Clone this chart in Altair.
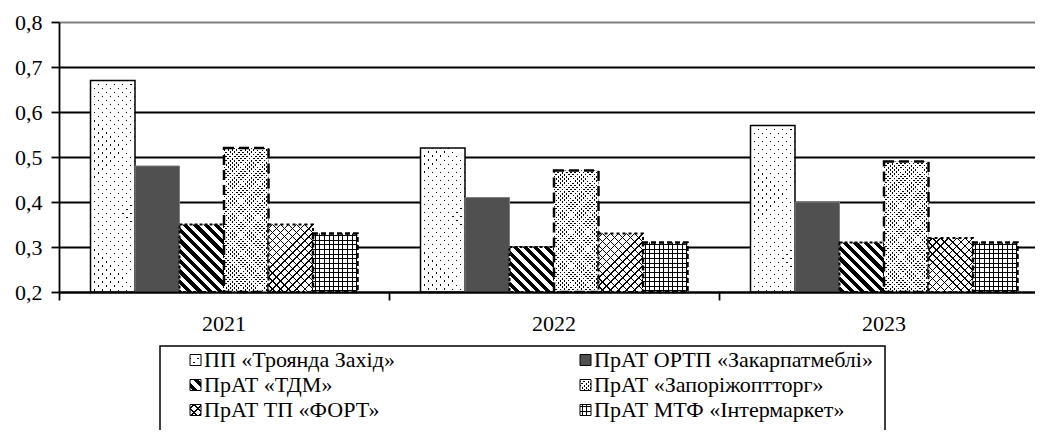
import math
import altair as alt
import pandas as pd

# ---------------- data ----------------
years = ["2021", "2022", "2023"]
series = [
    "ПП «Троянда Захід»",
    "ПрАТ ОРТП «Закарпатмеблі»",
    "ПрАТ «ТДМ»",
    "ПрАТ «Запоріжоптторг»",
    "ПрАТ ТП «ФОРТ»",
    "ПрАТ МТФ «Інтермаркет»",
]
troyanda = [0.67, 0.52, 0.57]
zakarpatmebli = [0.48, 0.41, 0.40]
tdm = [0.35, 0.30, 0.31]
zaporizh = [0.52, 0.47, 0.49]
fort = [0.35, 0.33, 0.32]
intermarket = [0.33, 0.31, 0.31]
y_ticks = [0.2, 0.3, 0.4, 0.5, 0.6, 0.7, 0.8]

values_by_series = [troyanda, zakarpatmebli, tdm, zaporizh, fort, intermarket]

rows = []
for s, vals in zip(series, values_by_series):
    for yr, v in zip(years, vals):
        rows.append({"year": yr, "series": s, "value": v})
df = pd.DataFrame(rows)
legend_df = pd.DataFrame({"name": series, "idx": list(range(len(series)))})

# ---------------- layout / style ----------------
PLOT_W, PLOT_H = 976, 270
GROUP = 330
Y_MIN, Y_MAX = 0.2, 0.8
OFF_PAD = 0.708
BAR_W = GROUP / (len(series) + 2 * OFF_PAD)
FONT = "Liberation Serif"
FS = 22
TRANSP = "rgba(255,255,255,0)"

# pattern recipes: ("solid", color) or ("lines", dir, pitch, width, line_color, bg_color)
PATTERNS = [
    [("solid", "black"), ("lines", "d1", 5.7, 1.1, TRANSP, "white"), ("lines", "d2", 5.7, 1.1, TRANSP, "white")],
    [("solid", "#505050")],
    [("solid", "white"), ("lines", "d1", 7.3, 3.6, "black", TRANSP)],
    [("solid", "black"), ("lines", "d1", 3.0, 1.3, TRANSP, "white"), ("lines", "d2", 3.0, 1.3, TRANSP, "white")],
    [("solid", "white"), ("lines", "d1", 5.7, 1.0, "black", TRANSP), ("lines", "d2", 5.7, 1.0, "black", TRANSP)],
    [("solid", "white"), ("lines", "v", 4.6, 1.0, "black", TRANSP), ("lines", "h", 4.6, 1.0, "black", TRANSP)],
]
OUTLINES = [
    dict(stroke="black", strokeWidth=1.5),
    dict(stroke="#7f7f7f", strokeWidth=1),
    dict(stroke="black", strokeWidth=2, strokeDash=[3, 2]),
    dict(stroke="black", strokeWidth=2.5, strokeDash=[10, 5]),
    dict(stroke="black", strokeWidth=2, strokeDash=[3, 3]),
    dict(stroke="black", strokeWidth=2.5, strokeDash=[5, 3]),
]


def line_gradient(w, h, direction, pitch, lw, line_color, bg_color):
    s2 = math.sqrt(0.5)
    nx, ny = {"v": (1, 0), "h": (0, 1), "d1": (s2, -s2), "d2": (s2, s2)}[direction]
    proj = [nx * px + ny * py for px, py in ((0, 0), (w, 0), (0, h), (w, h))]
    c0, c1 = min(proj), max(proj)
    L = c1 - c0
    gx, gy = nx * w / L, ny * h / L
    gg = gx * gx + gy * gy
    k0 = c0 / L
    x1, y1 = gx * k0 / gg, gy * k0 / gg
    x2, y2 = x1 + gx / gg, y1 + gy / gg
    stops = [(0.0, bg_color)]
    k = math.floor(c0 / pitch) - 1
    while k * pitch < c1 + pitch:
        center = k * pitch + pitch / 2
        ta = (center - lw / 2 - c0) / L
        tb = (center + lw / 2 - c0) / L
        k += 1
        if tb <= 0 or ta >= 1:
            continue
        ta, tb = max(0.0, ta), min(1.0, tb)
        stops += [(ta, bg_color), (ta, line_color), (tb, line_color), (tb, bg_color)]
    stops.append((1.0, bg_color))
    return alt.LinearGradient(
        gradient="linear",
        x1=round(x1, 6), y1=round(y1, 6), x2=round(x2, 6), y2=round(y2, 6),
        stops=[alt.GradientStop(offset=round(o, 6), color=c) for o, c in stops],
    )


def pattern_fills(i, w, h):
    out = []
    for rec in PATTERNS[i]:
        if rec[0] == "solid":
            out.append(rec[1])
        else:
            out.append(line_gradient(w, h, *rec[1:]))
    return out


# ---------------- encodings ----------------
x_enc = alt.X(
    "year:N", sort=years, title=None,
    scale=alt.Scale(domain=years, range=[0, GROUP * len(years)], paddingInner=0, paddingOuter=0),
    axis=alt.Axis(
        bandPosition=0, labelAngle=0, tickSize=8, tickWidth=1.8,
        tickColor="black", domainColor="black", domainWidth=1.8, labelFont=FONT,
        labelFontSize=FS, labelColor="black", labelPadding=13, grid=False, zindex=1,
    ),
)
xo_enc = alt.XOffset(
    "series:N", sort=series,
    scale=alt.Scale(domain=series, paddingInner=0, paddingOuter=OFF_PAD),
)
y_enc = alt.Y(
    "value:Q", title=None,
    scale=alt.Scale(domain=[Y_MIN, Y_MAX], nice=False, zero=False),
    axis=alt.Axis(
        values=y_ticks, labelExpr="replace(format(datum.value, '.1f'), '.', ',')",
        tickSize=8, tickWidth=1.8, tickColor="black", domainColor="black", domainWidth=1.8,
        grid=True, gridColor=alt.condition("datum.value > 0.79", alt.value("#808080"), alt.value("black")),
        gridWidth=1.8, labelFont=FONT, labelFontSize=FS, labelColor="black", labelPadding=9,
    ),
)

bar_layers = []
for i, s in enumerate(series):
    for j, yr in enumerate(years):
        v = values_by_series[i][j]
        h = (v - Y_MIN) / (Y_MAX - Y_MIN) * PLOT_H
        fills = pattern_fills(i, BAR_W, h)
        for k, f in enumerate(fills):
            props = dict(fill=f, opacity=1)
            if k == len(fills) - 1:
                props.update(OUTLINES[i])
            bar_layers.append(
                alt.Chart(df)
                .transform_filter((alt.datum.series == s) & (alt.datum.year == yr))
                .mark_bar(**props)
                .encode(x=x_enc, xOffset=xo_enc, y=y_enc, y2=alt.datum(Y_MIN))
            )
bars = alt.layer(*bar_layers)

# ---------------- legend ----------------
LEG_X0, LEG_COL, LEG_Y0, LEG_ROW, SYM, TXT_GAP = 131, 390, 338, 25, 11, 14
leg_base = (
    alt.Chart(legend_df)
    .transform_calculate(col="datum.idx % 2", row="floor(datum.idx / 2)")
    .transform_calculate(sx=f"{LEG_X0} + datum.col * {LEG_COL}", cy=f"{LEG_Y0} + datum.row * {LEG_ROW}")
    .transform_calculate(
        sx2=f"datum.sx + {SYM}", sy=f"datum.cy - {SYM / 2}", sy2=f"datum.cy + {SYM / 2}",
        tx=f"datum.sx + {TXT_GAP}",
    )
)
legend_layers = [
    alt.Chart(pd.DataFrame({"k": [0]}))
    .mark_rect(fill="white", fillOpacity=0, stroke="black", strokeWidth=1.5)
    .encode(x=alt.value(101), x2=alt.value(826), y=alt.value(324), y2=alt.value(480))
]
for i in range(len(series)):
    fills = pattern_fills(i, SYM, SYM)
    for k, f in enumerate(fills):
        props = dict(fill=f, opacity=1)
        if k == len(fills) - 1:
            props.update(stroke="black", strokeWidth=1)
        legend_layers.append(
            leg_base.transform_filter(alt.datum.idx == i)
            .mark_rect(**props)
            .encode(
                x=alt.X("sx:Q", scale=None, axis=None), x2="sx2:Q",
                y=alt.Y("sy:Q", scale=None, axis=None), y2="sy2:Q",
            )
        )
legend_layers.append(
    leg_base.mark_text(align="left", baseline="middle", font=FONT, fontSize=FS, color="black")
    .encode(
        x=alt.X("tx:Q", scale=None, axis=None),
        y=alt.Y("cy:Q", scale=None, axis=None),
        text="name:N",
    )
)
legend = alt.layer(*legend_layers)

chart = (
    alt.layer(bars, legend)
    .resolve_scale(x="independent", y="independent")
    .properties(
        width=PLOT_W, height=PLOT_H,
        autosize=alt.AutoSizeParams(type="none"),
        padding={"left": 51, "top": 14, "right": 0, "bottom": 138},
        background="white",
    )
    .configure_view(stroke=None)
)

chart.save("out.html", embed_options={"renderer": "svg", "actions": False})
